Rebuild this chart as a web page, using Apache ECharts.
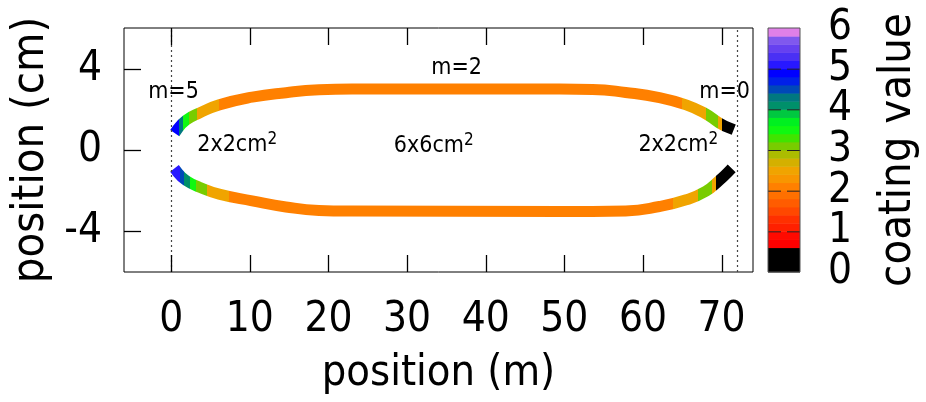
<!DOCTYPE html>
<html>
<head>
<meta charset="utf-8">
<script src="https://cdn.jsdelivr.net/npm/echarts@6/dist/echarts.min.js"></script>
<style>
  html, body { margin: 0; padding: 0; background: #fff; }
  #chart { width: 926px; height: 402px; }
</style>
</head>
<body>
<div id="chart"></div>
<script>
const FONT = '"DejaVu Sans Condensed", "DejaVu Sans", sans-serif';

// Axis ranges
const xRange = [-6, 74];
const yRange = [-6, 6];
const cbRange = [0, 6];

// Tick positions
const xTicks = [0, 10, 20, 30, 40, 50, 60, 70];
const yTicks = [-4, 0, 4];
const cbTicks = [0, 1, 2, 3, 4, 5, 6];

// Upper edge of the track: position (m) and lateral position (cm)
const upperX = [0.85, 1.9, 3.6, 6.1, 10.3, 14.6, 18.8, 23.0, 49.4, 53.6, 57.8, 62.1, 65.5, 68.0, 69.7, 70.9];
const upperY = [1.05, 1.47, 1.82, 2.22, 2.60, 2.82, 2.96, 3.00, 3.00, 2.98, 2.83, 2.58, 2.22, 1.78, 1.33, 1.10];

// Lower edge of the track
const lowerX = [0.85, 1.9, 3.6, 6.1, 10.3, 14.6, 18.8, 23.0, 49.4, 53.6, 57.8, 62.1, 65.5, 68.0, 69.7, 70.8];
const lowerY = [-1.12, -1.50, -1.83, -2.17, -2.50, -2.80, -2.97, -3.00, -3.02, -3.02, -3.00, -2.78, -2.45, -2.03, -1.50, -1.10];

// Coating along each edge: [from (m), to (m), coating value]
const upperRuns = [
  [-1.0, 1.0, 4.9],
  [1.0, 1.5, 4.2],
  [1.5, 2.3, 3.5],
  [2.3, 3.3, 3.1],
  [3.3, 6.1, 2.4],
  [6.1, 65.0, 2.0],
  [65.0, 68.0, 2.4],
  [68.0, 69.6, 3.1],
  [69.6, 70.1, 2.4],
  [70.1, 73.0, 0.0]
];
const lowerRuns = [
  [-1.0, 1.1, 5.1],
  [1.1, 1.6, 4.5],
  [1.6, 2.4, 4.1],
  [2.4, 3.2, 3.5],
  [3.2, 4.6, 3.1],
  [4.6, 7.4, 2.4],
  [7.4, 63.8, 2.0],
  [63.8, 67.0, 2.4],
  [67.0, 68.8, 3.1],
  [68.8, 69.3, 2.4],
  [69.3, 73.0, 0.0]
];

// Palette: one colour per 0.2 coating units, from 0 up to 6
const bandStep = 0.2;
const bandColors = [
  '#000000', '#000000', '#000000', '#ff0000', '#ff0a00',
  '#ff2000', '#ff3000', '#ff4800', '#ff5c00', '#ff7000',
  '#ff8000', '#f89600', '#f0a400', '#d4b000', '#acbc00',
  '#78cc00', '#40e400', '#10f810', '#00f020', '#00c840',
  '#00906a', '#007880', '#0048b8', '#0020e8', '#0000ff',
  '#2818ff', '#4a30f4', '#6640f0', '#8058ee', '#e080e8'
];

// Text annotations: [x (m), y (cm), text]
const notes = [
  [0.3, 2.85, 'm=5'],
  [36.3, 4.03, 'm=2'],
  [70.4, 2.85, 'm=0'],
  [8.4, 0.25, '2x2cm^2'],
  [33.4, 0.2, '6x6cm^2'],
  [64.5, 0.25, '2x2cm^2']
];

// Dotted guide lines at the ends of the track (m)
const guideX = [0, 72];

function colorOf(v) {
  const i = Math.min(bandColors.length - 1, Math.max(0, Math.floor(v / bandStep + 1e-9)));
  return bandColors[i];
}

function runPieces(runs) {
  return runs.map(r => ({ gte: r[0], lt: r[1], color: colorOf(r[2]) }));
}

const upperData = upperX.map((x, i) => [x, upperY[i]]);
const lowerData = lowerX.map((x, i) => [x, lowerY[i]]);
const bandData = bandColors.map((c, i) => [i * bandStep, (i + 1) * bandStep, i]);

const MAIN_TICK = 17;
const CB_TICK = 13;

function cbTickItem(params, api) {
  const v = api.value(1);
  const pl = api.coord([0, v]);
  const pr = api.coord([1, v]);
  const seg = (a, b) => ({ type: 'line', shape: { x1: a[0], y1: a[1], x2: b[0], y2: b[1] }, style: { stroke: '#222', lineWidth: 1 } });
  return { type: 'group', children: [
    seg([pl[0], pl[1] + 0.5], [pl[0] + CB_TICK, pl[1] + 0.5]),
    seg([pr[0], pr[1] + 0.5], [pr[0] - CB_TICK, pr[1] + 0.5])
  ] };
}

const axisText = { fontSize: 42, color: '#000', fontFamily: FONT };
const nameText = { fontSize: 45, color: '#000', fontFamily: FONT };
const hiddenLine = { show: false, onZero: false };

const chart = echarts.init(document.getElementById('chart'), null, { renderer: 'canvas' });

chart.setOption({
  animation: false,
  textStyle: { fontFamily: FONT },
  grid: [
    { left: 124, right: 173, top: 28, bottom: 130, show: true, borderColor: '#000', borderWidth: 1, backgroundColor: 'transparent' },
    { left: 768, right: 126, top: 28, bottom: 130, show: true, borderColor: '#555', borderWidth: 1, backgroundColor: 'transparent', z: 10 }
  ],
  xAxis: [
    {
      type: 'value', gridIndex: 0, min: xRange[0], max: xRange[1], position: 'bottom',
      axisLine: hiddenLine, axisTick: { show: false },
      axisLabel: Object.assign({ show: true, customValues: xTicks, lineHeight: 34, margin: 31 }, axisText),
      splitLine: { show: false },
      name: 'position (m)', nameLocation: 'middle', nameGap: 80,
      nameTextStyle: { fontSize: 43, color: '#000', fontFamily: FONT }
    },
    {
      type: 'value', gridIndex: 1, min: 0, max: 1, show: false
    }
  ],
  yAxis: [
    {
      type: 'value', gridIndex: 0, min: yRange[0], max: yRange[1], position: 'left',
      axisLine: hiddenLine, axisTick: { show: false },
      axisLabel: Object.assign({ show: true, customValues: yTicks, lineHeight: 34, margin: 22 }, axisText),
      splitLine: { show: false },
      name: 'position (cm)', nameLocation: 'middle', nameGap: 68,
      nameTextStyle: nameText
    },
    {
      // colour scale, even labels and axis title
      type: 'value', gridIndex: 1, min: cbRange[0], max: cbRange[1], position: 'right',
      axisLine: hiddenLine, axisTick: { show: false },
      axisLabel: Object.assign({ show: true, customValues: cbTicks.filter(v => v % 2 === 0), showMinLabel: true, showMaxLabel: true, lineHeight: 34, margin: 28 }, axisText),
      splitLine: { show: false },
      name: 'coating value', nameLocation: 'middle', nameGap: 76, nameRotate: 90,
      nameTextStyle: nameText
    },
    {
      // colour scale, odd labels
      type: 'value', gridIndex: 1, min: cbRange[0], max: cbRange[1], position: 'right', offset: 0,
      axisLine: hiddenLine, axisTick: { show: false },
      axisLabel: Object.assign({ show: true, customValues: cbTicks.filter(v => v % 2 === 1), lineHeight: 34, margin: 28 }, axisText),
      splitLine: { show: false }
    }
  ],
  visualMap: [
    { type: 'piecewise', show: false, dimension: 0, seriesIndex: 0, pieces: runPieces(upperRuns), outOfRange: { color: '#ff8000' } },
    { type: 'piecewise', show: false, dimension: 0, seriesIndex: 1, pieces: runPieces(lowerRuns), outOfRange: { color: '#ff8000' } }
  ],
  series: [
    {
      name: 'upper', type: 'line', xAxisIndex: 0, yAxisIndex: 0,
      data: upperData, showSymbol: false, smooth: 0.5,
      lineStyle: { width: 11, cap: 'square' },
      silent: true, z: 3,
      markLine: {
        silent: true, symbol: 'none', label: { show: false },
        lineStyle: { type: [2, 3], color: '#444', width: 1.2 },
        data: guideX.map(x => ({ xAxis: x }))
      }
    },
    {
      name: 'lower', type: 'line', xAxisIndex: 0, yAxisIndex: 0,
      data: lowerData, showSymbol: false, smooth: 0.5,
      lineStyle: { width: 11, cap: 'square' },
      silent: true, z: 3
    },
    {
      name: 'notes', type: 'scatter', xAxisIndex: 0, yAxisIndex: 0,
      data: notes, symbolSize: 0, silent: true, z: 5,
      itemStyle: { opacity: 1 },
      label: {
        show: true, position: 'inside', color: '#000', fontSize: 23, fontFamily: FONT,
        formatter: p => String(p.data[2]).replace(/\^(\S)/g, '{sup|$1}'),
        rich: {
          sup: { fontSize: 17, fontFamily: FONT, color: '#000', verticalAlign: 'top', padding: [0, 0, 10, 0] }
        }
      }
    },
    {
      name: 'colorbar', type: 'custom', xAxisIndex: 1, yAxisIndex: 1,
      data: bandData, silent: true, z: 2,
      renderItem: (params, api) => {
        const lo = api.value(0), hi = api.value(1);
        const p0 = api.coord([0, lo]);
        const p1 = api.coord([1, hi]);
        return {
          type: 'rect',
          shape: { x: p0[0], y: p1[1], width: p1[0] - p0[0], height: p0[1] - p1[1] + 0.5 },
          style: { fill: bandColors[api.value(2)] }
        };
      }
    },
    {
      name: 'colorbar ticks', type: 'custom', xAxisIndex: 1, yAxisIndex: 1,
      data: cbTicks.filter(v => v > cbRange[0] && v < cbRange[1]).map(v => [0.5, v]),
      silent: true, z: 6, renderItem: cbTickItem
    }
  ]
});

// Inward tick marks on the plot frame, placed through the axis scales
function frameTick(x1, y1, x2, y2) {
  return { type: 'line', silent: true, z: 100, shape: { x1: x1, y1: y1, x2: x2, y2: y2 }, style: { stroke: '#000', lineWidth: 1.3 } };
}
const frameTicks = [];
xTicks.forEach(x => {
  const pb = chart.convertToPixel({ xAxisIndex: 0, yAxisIndex: 0 }, [x, yRange[0]]);
  const pt = chart.convertToPixel({ xAxisIndex: 0, yAxisIndex: 0 }, [x, yRange[1]]);
  if (!pb || !pt) return;
  const px = Math.round(pb[0]) + 0.5;
  frameTicks.push(frameTick(px, pb[1], px, pb[1] - MAIN_TICK));
  frameTicks.push(frameTick(px, pt[1], px, pt[1] + MAIN_TICK));
});
yTicks.forEach(y => {
  const pl = chart.convertToPixel({ xAxisIndex: 0, yAxisIndex: 0 }, [xRange[0], y]);
  if (!pl) return;
  const py = Math.round(pl[1]) + 0.5;
  frameTicks.push(frameTick(pl[0], py, pl[0] + MAIN_TICK, py));
});
chart.setOption({ graphic: { elements: frameTicks } });
</script>
</body>
</html>
